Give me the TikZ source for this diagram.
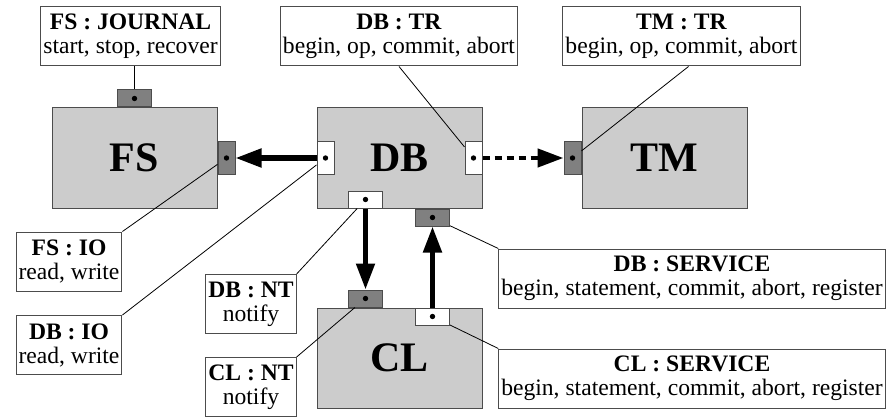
\documentclass[tikz,border=0pt]{standalone}
\usepackage{fontspec}
\setmainfont{Liberation Serif}
\usetikzlibrary{arrows.meta,positioning}

\begin{document}
\begin{tikzpicture}[x=1pt,y=-1pt,
  comp/.style={draw=black!70,line width=1pt,fill=black!20,minimum width=165pt,minimum height=100pt,
    font=\fontsize{42}{44}\selectfont\bfseries},
  porth/.style={draw=black!70,line width=1pt,minimum width=34pt,minimum height=17pt,inner sep=0pt},
  portv/.style={draw=black!70,line width=1pt,minimum width=17pt,minimum height=33pt,inner sep=0pt},
  dark/.style={fill=black!50},
  light/.style={fill=white},
  iface/.style={draw=black!70,line width=1pt,fill=white,align=center,inner xsep=2.5pt,minimum height=59pt,
    font=\fontsize{23.6}{24}\selectfont},
  lead/.style={line width=0.8pt},
  flow/.style={line width=5pt,-{Triangle[length=26pt,width=18pt]}}]
\useasboundingbox (0,0) rectangle (886,417);
% components
\node[comp] (fs) at (134.5,158) {FS};
\node[comp] (db) at (399.5,158) {DB};
\node[comp] (tm) at (664.5,158) {TM};
\node[comp] (cl) at (399.5,358) {CL};
% ports
\node[porth,dark,anchor=south] (fsJ) at (fs.north) {};
\node[portv,dark,anchor=west] (fsIO) at (fs.east) {};
\node[portv,light,anchor=west] (dbIO) at (db.west) {};
\node[portv,light,anchor=east] (dbTR) at (db.east) {};
\node[portv,dark,anchor=east] (tmTR) at (tm.west) {};
\node[porth,light,anchor=south] (dbNT) at ([xshift=49pt]db.south west) {};
\node[porth,dark,anchor=north] (dbSV) at ([xshift=116pt]db.south west) {};
\node[porth,dark,anchor=south] (clNT) at ([xshift=49pt]cl.north west) {};
\node[porth,light,anchor=north] (clSV) at ([xshift=116pt]cl.north west) {};
\foreach \p in {fsJ,fsIO,dbIO,dbTR,tmTR,dbNT,dbSV,clNT,clSV}
  \fill (\p) circle (2.7pt);
% interfaces
\node[iface] (jFS) at (130.5,36.5) {\textbf{FS : JOURNAL}\\start, stop, recover};
\node[iface] (trDB) at (399,36.5) {\textbf{DB : TR}\\begin, op, commit, abort};
\node[iface] (trTM) at (681.5,36.5) {\textbf{TM : TR}\\begin, op, commit, abort};
\node[iface] (ioFS) at (69,261.5) {\textbf{FS : IO}\\read, write};
\node[iface] (ioDB) at (69,345) {\textbf{DB : IO}\\read, write};
\node[iface] (ntDB) at (251,304) {\textbf{DB : NT}\\notify};
\node[iface] (ntCL) at (251,387) {\textbf{CL : NT}\\notify};
\node[iface] (svDB) at (692,278.5) {\textbf{DB : SERVICE}\\begin, statement, commit, abort, register};
\node[iface] (svCL) at (692,378.5) {\textbf{CL : SERVICE}\\begin, statement, commit, abort, register};
% leaders
\draw[lead] (jFS.south -| fsJ) -- (fsJ);
\draw[lead] (trDB.south) -- (dbTR);
\draw[lead] ([xshift=7pt]trTM.south) -- (tmTR);
\draw[lead] (ioFS.north east) -- (fsIO);
\draw[lead] (ioDB.north east) -- (dbIO);
\draw[lead] (ntDB.north east) -- (dbNT);
\draw[lead] (ntCL.north east) -- (clNT);
\draw[lead] (svDB.north west) -- (dbSV);
\draw[lead] (svCL.north west) -- (clSV);
% calls
\draw[flow] (dbIO.west) -- (fsIO.east);
\draw[flow,line width=4.5pt,dash pattern=on 7pt off 5pt] (dbTR.east) -- (tmTR.west);
\draw[flow] (dbNT.south) -- (clNT.north);
\draw[flow] (clSV.north) -- (dbSV.south);
\end{tikzpicture}
\end{document}
